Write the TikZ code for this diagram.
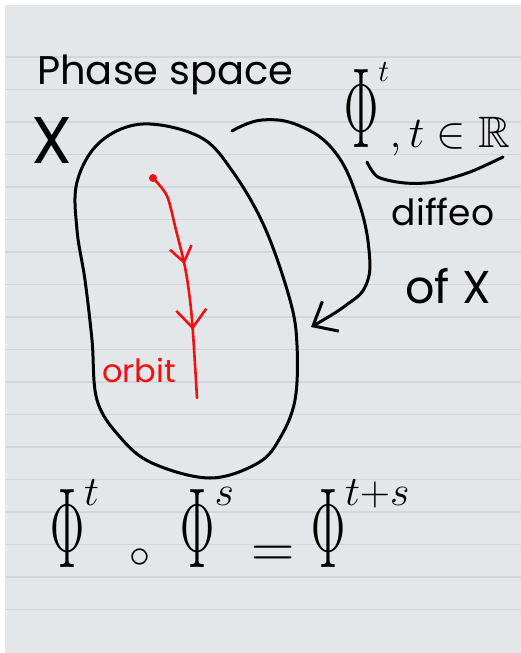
\RequirePackage{fix-cm}
\documentclass[tikz,border=0pt]{standalone}
\usepackage{amssymb}
\usepackage[no-math]{fontspec}
\usepackage{graphicx}
\newfontfamily\handfont{Poppins}
\usetikzlibrary{arrows.meta,decorations.markings}

\definecolor{pagegray}{RGB}{228,231,233}
\definecolor{linegray}{RGB}{210,214,217}
\definecolor{inkred}{RGB}{240,16,16}

% tall hand-drawn capital phi, same size in every label
\newcommand{\tallphi}{\scalebox{0.85}[1.9]{\fontsize{60}{60}\selectfont$\Phi$}}

\begin{document}
\begin{tikzpicture}[
  x=1pt, y=-1pt,
  ink/.style={draw=black, line width=3pt, line cap=round, line join=round},
  redink/.style={draw=inkred, line width=2.6pt, line cap=round, line join=round},
  ruleline/.style={draw=linegray, line width=1.1pt},
  hand/.style={inner sep=0pt, anchor=base west, text=black},
  barb/.style={-{Straight Barb[length=20pt, width=34pt]}},
]
\useasboundingbox (0,0) rectangle (521,653);

% Page
\fill[white] (0,0) rectangle (521,653);
\fill[pagegray] (5,5) rectangle (521,653);
\foreach \k in {0,...,17}
  \draw[ruleline] (5,{57+32.5*\k}) -- (521,{57+32.5*\k});

% Labels
\node[hand, font=\handfont\fontsize{40}{48}\selectfont] (phasespace) at (37,84) {Phase space};
\node[hand, anchor=center, font=\handfont\fontsize{66}{70}\selectfont] (spaceX) at (52,140) {X};
\node[hand, font=\fontsize{44}{50}\selectfont] (flowlabel) at (344,147) {$\tallphi^{t}, t\in\mathbb{R}$};
\node[hand, anchor=base, font=\handfont\fontsize{36}{40}\selectfont] (diffeo) at (443,225) {diffeo};
\node[hand, anchor=base, font=\handfont\fontsize{46}{50}\selectfont] (ofX) at (448,303) {of X};
\node[hand, text=inkred, font=\handfont\fontsize{32}{36}\selectfont] (orbitlabel) at (102,382) {orbit};
\node[hand, font=\fontsize{60}{70}\selectfont] (groupeq) at (50,567) {$\tallphi^{t}\;\mathbin{\scriptstyle\circ}\;\tallphi^{s}=\tallphi^{t+s}$};

% Phase space blob
\draw[ink] plot[smooth cycle, tension=0.6] coordinates {(143,124) (200,137) (233,172) (265,228) (290,300) (297,345) (295,400) (280,438) (258,463) (210,478) (152,463) (120,437) (97,400) (92,340) (85,280) (77,230) (77,182) (100,142)};

% Orbit
\coordinate (orbitstart) at (153,178);
\draw[redink, postaction=decorate, decoration={markings,
    mark=at position 0.41 with {\arrow[inkred, line width=2.6pt]{Straight Barb[length=15pt, width=22pt]}},
    mark=at position 0.70 with {\arrow[inkred, line width=2.6pt]{Straight Barb[length=18pt, width=30pt]}}}]
  plot[smooth] coordinates {(153,178) (167,196) (176,230) (185,267) (190,300) (193,333) (197,398)};
\fill[inkred] (orbitstart) circle (4pt);

% Flow acting on X
\draw[ink, barb] plot[smooth, tension=0.7] coordinates {(232,131) (262,120) (300,126) (335,152) (358,200) (369,250) (366,285) (345,306) (311,327)};
\draw[ink] plot[smooth] coordinates {(367,162) (378,177) (405,183) (435,182) (470,172) (503,157)};
\end{tikzpicture}
\end{document}
